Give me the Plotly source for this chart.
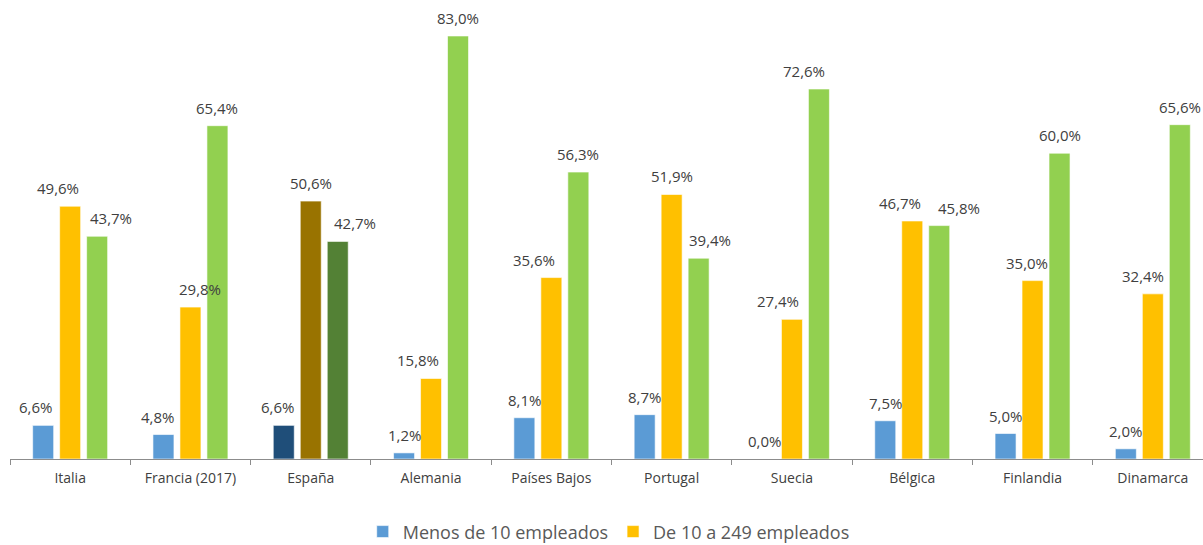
import plotly.graph_objects as go

# Share of companies by size band, per country (%)
paises = ["Italia", "Francia (2017)", "España", "Alemania", "Países Bajos",
          "Portugal", "Suecia", "Bélgica", "Finlandia", "Dinamarca"]
menos_10 = [6.6, 4.8, 6.6, 1.2, 8.1, 8.7, 0.0, 7.5, 5.0, 2.0]
de_10_a_249 = [49.6, 29.8, 50.6, 15.8, 35.6, 51.9, 27.4, 46.7, 35.0, 32.4]
de_250_mas = [43.7, 65.4, 42.7, 83.0, 56.3, 39.4, 72.6, 45.8, 60.0, 65.6]

series_names = ["Menos de 10 empleados", "De 10 a 249 empleados", "250 o más empleados"]
series_values = [menos_10, de_10_a_249, de_250_mas]

# Colours: España is highlighted with darker shades
base_colors = ["#5B9BD5", "#FFC000", "#92D050"]
highlight_colors = ["#1F4E79", "#997300", "#538135"]
highlight = "España"

# Horizontal pixel nudges for the value labels, so neighbouring labels do not collide
label_nudge = [
    [-8, -6, -6, 0, 0, 0, 0, 0, 0, 0],
    [-12, 10, 0, -13, -17, 0, -14, -12, -6, -10],
    [14, 0, 17, 0, 0, 11, -15, 20, 0, 0],
]

W, H = 1203, 545
BARGAP = 0.327
BARGROUPGAP = 0.222
FONT = "Open Sans, Liberation Sans, sans-serif"
label_font = dict(family=FONT, size=15, color="#404040")

fig = go.Figure()
legends = ["legend", "legend", "legend2"]
for k, (name, vals) in enumerate(zip(series_names, series_values)):
    colors = [highlight_colors[k] if p == highlight else base_colors[k] for p in paises]
    fig.add_trace(go.Bar(
        name=name, x=paises, y=vals,
        marker=dict(color=colors, line=dict(color="rgba(255,255,255,0.6)", width=1)),
        legend=legends[k],
    ))

# Value labels above each bar (comma as decimal separator)
slot = (1 - BARGAP) / 3
annotations = []
for k, vals in enumerate(series_values):
    for i, v in enumerate(vals):
        annotations.append(dict(
            x=i + (k - 1) * slot, y=v, xref="x", yref="y",
            text=f"{v:.1f}".replace(".", ",") + "%",
            showarrow=False, yanchor="bottom", yshift=6,
            xshift=label_nudge[k][i], font=label_font,
        ))

fig.update_layout(
    width=W, height=H,
    margin=dict(l=10, r=0, t=10, b=86, autoexpand=False),
    paper_bgcolor="white", plot_bgcolor="white",
    barmode="group", bargap=BARGAP, bargroupgap=BARGROUPGAP,
    annotations=annotations,
    showlegend=True,
    legend=dict(
        orientation="h", xref="container", yref="container",
        x=0.506, xanchor="center", y=0.058, yanchor="top",
        font=dict(family=FONT, size=18, color="#595959"),
        itemwidth=30, tracegroupgap=0,
    ),
    # second legend row sits below the visible page edge
    legend2=dict(
        orientation="h", xref="container", yref="container",
        x=0.5, xanchor="center", y=-0.3, yanchor="top",
        font=dict(family=FONT, size=18, color="#595959"),
    ),
)

fig.update_xaxes(
    type="category", range=[-0.5, 9.417],
    showline=True, linecolor="#8C8C8C", linewidth=1,
    ticks="outside", tickson="boundaries", ticklen=5, tickcolor="#8C8C8C",
    ticklabelstandoff=6,
    tickfont=dict(family=FONT, size=14, color="#404040"),
    showgrid=False, zeroline=False, fixedrange=True,
)
fig.update_yaxes(
    range=[0, 88.1], visible=False, showgrid=False, zeroline=False, fixedrange=True,
)

fig.write_html("out.html")
